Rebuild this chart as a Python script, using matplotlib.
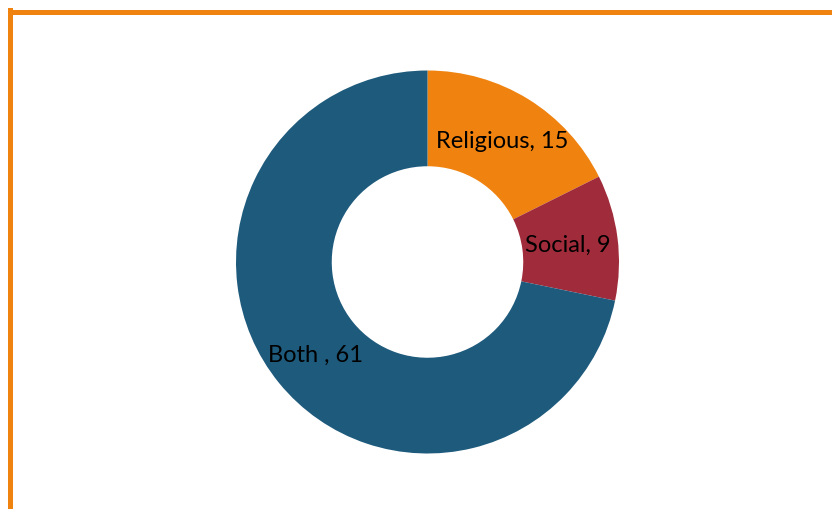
import matplotlib.pyplot as plt
from matplotlib.lines import Line2D

categories = ["Religious", "Social", "Both "]
counts = [15, 9, 61]
colors = ["#F0820F", "#A02B3A", "#1E5A7C"]

W, H = 832, 509
fig = plt.figure(figsize=(W / 100, H / 100), dpi=100)

# donut centred at (427.5, 262) px, outer radius 191.5 px
cx, cy, r = 427.5, 262, 191.5
ax = fig.add_axes([(cx - r) / W, (H - cy - r) / H, 2 * r / W, 2 * r / H])
wedges, _ = ax.pie(counts, colors=colors, startangle=90, counterclock=False,
                   radius=1, wedgeprops=dict(width=0.5, linewidth=0))
ax.set_xlim(-1, 1)
ax.set_ylim(-1, 1)
ax.set_aspect("equal")
ax.axis("off")

label_pos = [(0.39, 0.627), (0.734, 0.089), (-0.587, -0.486)]
for (x, y), name, n in zip(label_pos, categories, counts):
    ax.text(x, y, f"{name}, {n}", ha="center", va="center",
            fontsize=17, family="Lato", color="black")

# orange frame along top and left edges
lw = 5 * 72 / 100
fig.add_artist(Line2D([9.5 / W, 9.5 / W], [0, 1 - 10 / H], color="#F0820F",
                      lw=lw, solid_capstyle="projecting", transform=fig.transFigure))
fig.add_artist(Line2D([9.5 / W, 1], [1 - 12 / H, 1 - 12 / H], color="#F0820F",
                      lw=lw, solid_capstyle="butt", transform=fig.transFigure))

fig.savefig("out.png", dpi=100)
